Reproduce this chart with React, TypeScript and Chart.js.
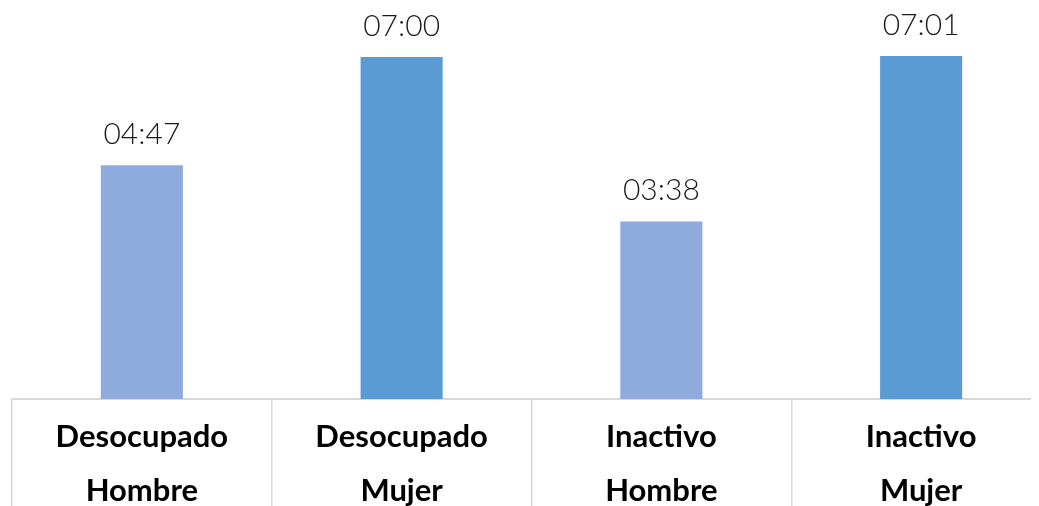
import React, { useEffect, useRef } from "react";
import { Chart, registerables } from "chart.js";

Chart.register(...registerables);

const categories: string[][] = [
  ["Desocupado", "Hombre"],
  ["Desocupado", "Mujer"],
  ["Inactivo", "Hombre"],
  ["Inactivo", "Mujer"],
];
// minutes
const values: number[] = [287, 420, 218, 421];
const barColors: string[] = ["#8faadc", "#5b9bd5", "#8faadc", "#5b9bd5"];
const yMax = 480;

function fmt(m: number): string {
  const h = Math.floor(m / 60);
  const mm = m % 60;
  return String(h).padStart(2, "0") + ":" + String(mm).padStart(2, "0");
}

const labelPlugin = {
  id: "valueLabels",
  afterDatasetsDraw(chart: any) {
    const ctx = chart.ctx;
    const meta = chart.getDatasetMeta(0);
    ctx.save();
    ctx.font = "300 30px Lato";
    ctx.fillStyle = "#1a1a1a";
    ctx.textAlign = "center";
    ctx.textBaseline = "middle";
    meta.data.forEach((el: any, i: number) => {
      ctx.fillText(fmt(values[i]), el.x, el.y - 31);
    });
    ctx.restore();
  },
};

export default function App() {
  const ref = useRef<HTMLCanvasElement>(null);
  useEffect(() => {
    document.documentElement.style.overflow = "hidden";
    document.body.style.overflow = "hidden";
    if (!ref.current) return;
    const chart = new Chart(ref.current, {
      type: "bar",
      data: {
        labels: categories,
        datasets: [
          {
            data: values,
            backgroundColor: barColors,
            barPercentage: 0.316,
            categoryPercentage: 1,
          },
        ],
      },
      options: {
        animation: false,
        responsive: false,
        layout: { padding: { left: 4, right: 0, top: 0, bottom: 0 } },
        plugins: { legend: { display: false }, tooltip: { enabled: false } },
        scales: {
          y: { display: false, min: 0, max: yMax },
          x: {
            offset: true,
            afterFit: (scale: any) => {
              scale.height = 107;
            },
            border: { display: true, color: "#d9d9d9", width: 2 },
            grid: {
              offset: true,
              drawOnChartArea: false,
              drawTicks: true,
              tickLength: 107,
              color: "#d9d9d9",
              lineWidth: 1.5,
            },
            ticks: {
              padding: -96,
              color: "#000000",
              font: { family: "Lato", size: 31, weight: "bold", lineHeight: "54px" },
              maxRotation: 0,
              autoSkip: false,
            },
          },
        },
      },
      plugins: [labelPlugin],
    });
    return () => chart.destroy();
  }, []);
  return (
    <div style={{ width: 1031, height: 498, overflow: "hidden" }}>
      <canvas ref={ref} width={1043} height={498} style={{ display: "block" }} />
    </div>
  );
}
